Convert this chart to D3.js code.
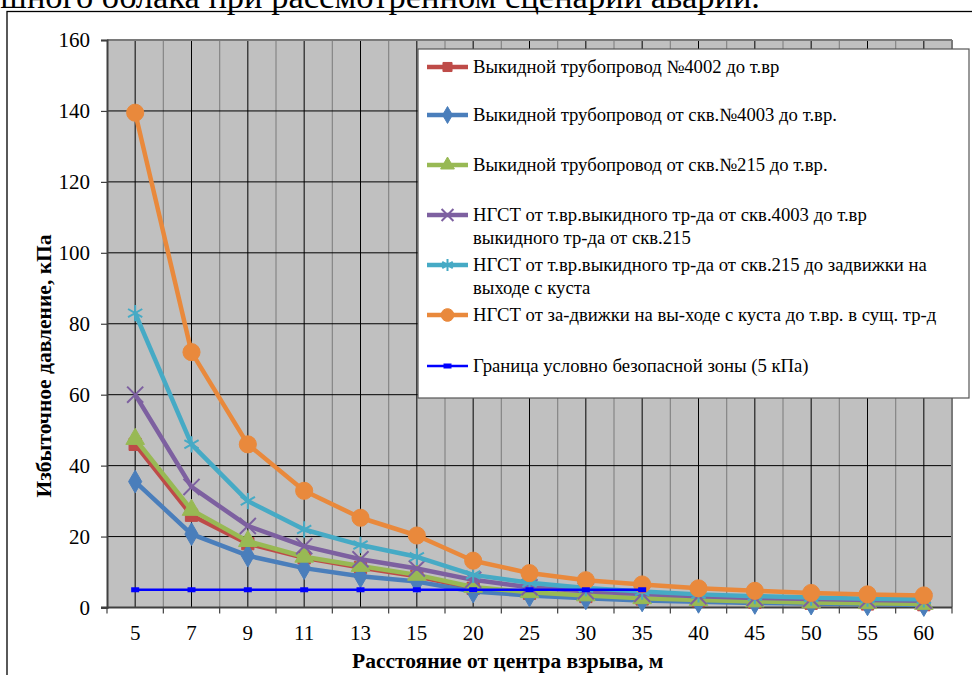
<!DOCTYPE html>
<html>
<head>
<meta charset="utf-8">
<script src="https://cdn.jsdelivr.net/npm/d3@7"></script>
<style>
html,body{margin:0;padding:0;background:#fff;}
svg{display:block;}
svg text{font-family:"Liberation Serif","Times New Roman",serif;}
</style>
</head>
<body>
<svg id="chart" width="972" height="675"></svg>
<script>
// ---- data ----
const categories = ["5","7","9","11","13","15","20","25","30","35","40","45","50","55","60"];
const yTicks = [0,20,40,60,80,100,120,140,160];
const seriesNames = [
  ["Выкидной трубопровод  №4002 до т.вр"],
  ["Выкидной трубопровод от скв.№4003 до т.вр."],
  ["Выкидной трубопровод от скв.№215 до т.вр."],
  ["НГСТ от т.вр.выкидного тр-да от скв.4003 до т.вр", "выкидного тр-да от скв.215"],
  ["НГСТ от т.вр.выкидного тр-да от скв.215 до задвижки на", "выходе с куста"],
  ["НГСТ от за-движки на вы-ходе с куста до т.вр. в сущ. тр-д"],
  ["Граница условно безопасной зоны (5 кПа)"]
];
const valuesRed    = [46, 26, 18, 14, 11.3, 8.8, 5.4, 4.0, 3.1, 2.4, 1.9, 1.5, 1.2, 1.0, 0.8];
const valuesBlue   = [35.5, 20.7, 14.6, 11.1, 8.8, 7.3, 4.5, 3.4, 2.6, 2.0, 1.6, 1.3, 1.1, 0.9, 0.7];
const valuesGreen  = [47.5, 27.5, 18.7, 14.3, 11.7, 9.2, 5.8, 4.3, 3.4, 2.6, 2.1, 1.7, 1.4, 1.2, 1.0];
const valuesPurple = [60, 34, 23, 17.3, 13.6, 11, 7.8, 5.7, 4.6, 3.8, 3.2, 2.7, 2.4, 2.1, 1.9];
const valuesTeal   = [83, 46, 30, 22, 17.6, 14.3, 9.2, 7.0, 5.5, 4.5, 3.7, 3.2, 2.8, 2.5, 2.3];
const valuesOrange = [139.5, 72, 46, 32.9, 25.3, 20.3, 13.2, 9.7, 7.7, 6.5, 5.4, 4.7, 4.1, 3.7, 3.4];
const valuesLimit  = [5, 5, 5, 5, 5, 5, 5, 5, 5, 5];
const titleText = "воздушного облака при рассмотренном сценарии аварии.";
const xTitle = "Расстояние от центра взрыва, м";
const yTitle = "Избыточное давление, кПа";

const FONT = "Liberation Serif, Times New Roman, serif";

// ---- styles ----
const series = [
  {values: valuesRed,    color:"#BE4B48", symbol:d3.symbolSquare,   size:150, stroke:false, name:seriesNames[0]},
  {values: valuesBlue,   color:"#4A7EBB", symbol:d3.symbolDiamond,  size:150, stroke:false, name:seriesNames[1]},
  {values: valuesGreen,  color:"#98B954", symbol:d3.symbolTriangle, size:150, stroke:false, name:seriesNames[2]},
  {values: valuesPurple, color:"#7D60A0", symbol:d3.symbolX,        size:170, stroke:true,  name:seriesNames[3]},
  {values: valuesTeal,   color:"#46AAC5", symbol:d3.symbolAsterisk, size:190, stroke:true,  name:seriesNames[4]},
  {values: valuesOrange, color:"#E9893C", symbol:d3.symbolCircle,   size:230, stroke:false, name:seriesNames[5]}
];

const svg = d3.select("#chart");
const L = 107, R = 952, T = 40, B = 607.5;

// title (partially cut off at top, as in the source)
svg.append("text").attr("x", 760).attr("y", 8).attr("text-anchor","end")
  .attr("font-family",FONT).attr("font-size", 34.5).attr("fill","#000").text(titleText);

// outer frame
svg.append("rect").attr("x",7).attr("y",11.5).attr("width",1000).attr("height",700)
  .attr("fill","none").attr("stroke","#000").attr("stroke-width",1.3);

const x = d3.scaleBand().domain(categories).range([L, R]).padding(0);
const bw = x.bandwidth();
const cx = c => x(c) + bw/2;
const y = d3.scaleLinear().domain([0,160]).range([B, T]);

// plot background
svg.append("rect").attr("x",L).attr("y",T).attr("width",R-L).attr("height",B-T).attr("fill","#C0C0C0");

// vertical gray gridlines at category boundaries
const bounds = categories.map(c => x(c)).concat([R]);
svg.append("g").selectAll("line").data(bounds.slice(1)).join("line")
  .attr("x1",d=>d).attr("x2",d=>d).attr("y1",T).attr("y2",B)
  .attr("stroke","#858585").attr("stroke-width",1.2);
// vertical black gridlines at category centers
svg.append("g").selectAll("line").data(categories).join("line")
  .attr("x1",d=>cx(d)).attr("x2",d=>cx(d)).attr("y1",T).attr("y2",B)
  .attr("stroke","#000").attr("stroke-width",1);
// horizontal black gridlines
svg.append("g").selectAll("line").data(yTicks.filter(v=>v>0 && v<160)).join("line")
  .attr("x1",L).attr("x2",R).attr("y1",d=>y(d)).attr("y2",d=>y(d))
  .attr("stroke","#000").attr("stroke-width",1);
// top & right border of plot
svg.append("line").attr("x1",L).attr("x2",R).attr("y1",T).attr("y2",T).attr("stroke","#7a7a7a").attr("stroke-width",2);
svg.append("line").attr("x1",R).attr("x2",R).attr("y1",T).attr("y2",B).attr("stroke","#7a7a7a").attr("stroke-width",2);

// y axis
const yAxis = svg.append("g").attr("transform",`translate(${L},0)`)
  .call(d3.axisLeft(y).tickValues(yTicks).tickSize(6).tickPadding(11));
yAxis.attr("font-family",FONT);
yAxis.select(".domain").attr("stroke","#404040").attr("stroke-width",2);
yAxis.selectAll(".tick line").attr("stroke","#404040").attr("stroke-width",1.2);
yAxis.selectAll(".tick text").attr("font-size",21).attr("fill","#000").attr("font-family",FONT);

// x axis
const xAxis = svg.append("g").attr("transform",`translate(0,${B})`)
  .call(d3.axisBottom(x).tickSize(0).tickPadding(18));
xAxis.attr("font-family",FONT);
xAxis.select(".domain").remove();
xAxis.selectAll(".tick text").attr("font-size",21).attr("fill","#000").attr("font-family",FONT);
svg.append("line").attr("x1",L-6).attr("x2",R).attr("y1",B).attr("y2",B).attr("stroke","#404040").attr("stroke-width",2);
svg.append("g").selectAll("line").data(bounds).join("line")
  .attr("x1",d=>d).attr("x2",d=>d).attr("y1",B).attr("y2",B+6)
  .attr("stroke","#404040").attr("stroke-width",1.2);

// axis titles
svg.append("text").attr("x", 352).attr("y", 668).attr("text-anchor","start")
  .attr("font-family",FONT).attr("font-size",21.5).attr("font-weight","bold").text(xTitle);
svg.append("text").attr("transform","translate(51,366) rotate(-90)").attr("text-anchor","middle")
  .attr("font-family",FONT).attr("font-size",21.5).attr("font-weight","bold").text(yTitle);

// series
const line = d3.line().x((d,i)=>cx(categories[i])).y(d=>y(d));
function drawMarker(g, s, px, py, scale){
  const p = d3.symbol().type(s.symbol).size(s.size*scale)();
  const m = g.append("path").attr("d",p).attr("transform",`translate(${px},${py})`);
  if (s.stroke) m.attr("fill","none").attr("stroke",s.color).attr("stroke-width",2);
  else m.attr("fill",s.color).attr("stroke",s.color).attr("stroke-width",1);
}
series.forEach(s=>{
  const g = svg.append("g");
  g.append("path").datum(s.values).attr("d",line).attr("fill","none")
    .attr("stroke",s.color).attr("stroke-width",4.5).attr("stroke-linejoin","round");
  s.values.forEach((v,i)=>drawMarker(g, s, cx(categories[i]), y(v), 1));
});
// 5 kPa limit line
const gl = svg.append("g");
gl.append("path").datum(valuesLimit).attr("d",line).attr("fill","none")
  .attr("stroke","#0000FF").attr("stroke-width",2.5);
gl.selectAll("rect").data(valuesLimit).join("rect")
  .attr("x",(d,i)=>cx(categories[i])-4).attr("y",d=>y(d)-2.5).attr("width",8).attr("height",5)
  .attr("fill","#0000FF");

// legend
const lg = svg.append("g");
lg.append("rect").attr("x",418).attr("y",49).attr("width",551).attr("height",349)
  .attr("fill","#fff").attr("stroke","#555").attr("stroke-width",1.2);
const legendY = [67, 115, 165, 215, 265, 315, 366];
const legendItems = series.map(s=>({s:s, name:s.name})).concat([{s:null, name:seriesNames[6]}]);
legendItems.forEach((it,k)=>{
  const ly = legendY[k];
  if (it.s){
    lg.append("line").attr("x1",427).attr("x2",468).attr("y1",ly).attr("y2",ly)
      .attr("stroke",it.s.color).attr("stroke-width",4.5);
    drawMarker(lg, it.s, 447.5, ly, 0.55);
  } else {
    lg.append("line").attr("x1",427).attr("x2",468).attr("y1",ly).attr("y2",ly)
      .attr("stroke","#0000FF").attr("stroke-width",2.5);
    lg.append("rect").attr("x",443.5).attr("y",ly-2.5).attr("width",8).attr("height",5).attr("fill","#0000FF");
  }
  it.name.forEach((t,j)=>{
    lg.append("text").attr("x",473).attr("y",ly+6+j*23).attr("font-family",FONT).attr("font-size",18.7)
      .attr("fill","#000").text(t);
  });
});
</script>
</body>
</html>
